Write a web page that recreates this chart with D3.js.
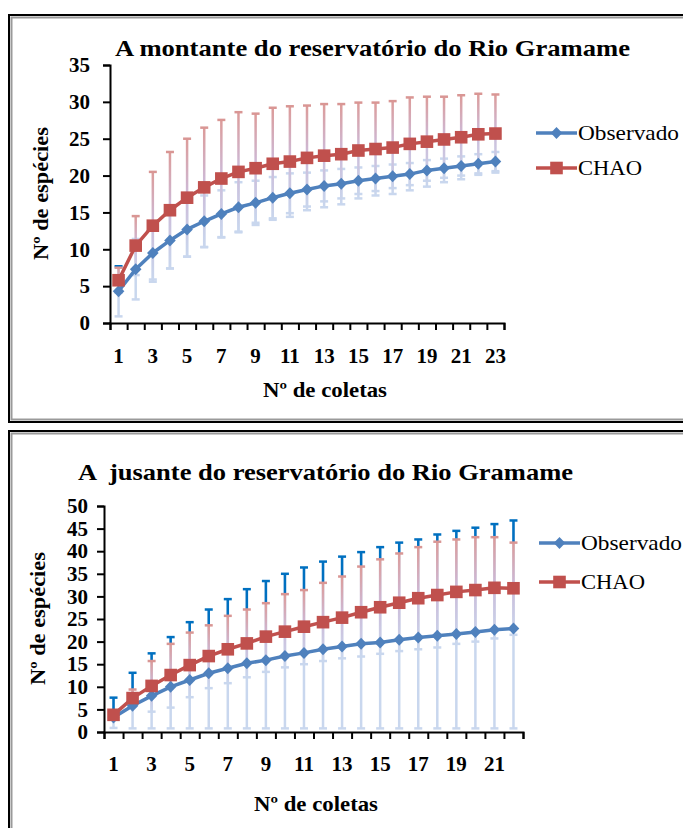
<!DOCTYPE html>
<html lang="pt">
<head>
<meta charset="UTF-8">
<title>Curvas de acumulação - Rio Gramame</title>
<script src="https://d3js.org/d3.v7.min.js"></script>
<style>
    body { margin: 0; background: #fff; }
    svg { display: block; }
    svg text { font-family: "Liberation Serif", "Times New Roman", serif; }
    .tick line, .domain { stroke: #000; }
</style>
</head>
<body>
<div class="container"></div>
<script>
// ---- data ----
const topColetas = [1,2,3,4,5,6,7,8,9,10,11,12,13,14,15,16,17,18,19,20,21,22,23];
const topObs     = [4.3,7.3,9.5,11.2,12.7,13.8,14.8,15.7,16.3,17.0,17.6,18.1,18.6,18.9,19.3,19.6,19.9,20.2,20.7,21.0,21.3,21.6,21.9];
const topObsErr  = [3.4,4.1,3.9,3.8,3.7,3.5,3.2,3.4,3.0,2.8,2.7,2.3,2.1,2.0,1.8,1.7,1.6,1.5,1.4,1.3,1.3,1.3,1.3];
const topChao    = [5.8,10.5,13.2,15.3,17.0,18.4,19.6,20.5,21.0,21.6,21.9,22.4,22.7,22.9,23.4,23.6,23.8,24.3,24.6,24.9,25.2,25.6,25.7];
const topChaoErr = [1.7,4.0,7.3,7.9,8.0,8.1,7.95,8.1,7.4,7.6,7.5,7.1,7.0,6.8,6.5,6.3,6.3,6.3,6.1,5.8,5.7,5.5,5.3];
const topYTicks  = [0,5,10,15,20,25,30,35];

const botColetas = [1,2,3,4,5,6,7,8,9,10,11,12,13,14,15,16,17,18,19,20,21,22];
const botObs     = [3.2,5.8,8.0,10.0,11.5,13.0,14.1,15.2,15.9,16.8,17.5,18.3,18.9,19.5,19.8,20.4,20.9,21.3,21.7,22.1,22.6,22.9];
const botObsHi   = [7.6,13.1,17.4,21.0,24.3,27.1,29.4,31.6,33.4,35.0,36.4,37.7,38.8,39.8,40.9,41.9,42.6,43.7,44.5,45.2,46.0,46.8];
const botObsLo   = [0.9,0.8,0.8,0.8,0.8,0.8,0.8,0.8,0.8,0.8,0.8,0.8,0.8,0.8,0.8,0.8,0.8,0.8,0.8,0.8,0.8,0.8];
const botChao    = [3.8,7.5,10.2,12.6,14.8,16.8,18.3,19.6,21.1,22.2,23.3,24.3,25.3,26.5,27.6,28.6,29.6,30.3,31.0,31.4,31.9,31.8];
const botChaoHi  = [4.6,9.4,15.7,19.5,22.0,23.6,25.7,27.1,28.5,30.5,31.4,33.0,34.4,36.6,38.2,39.5,40.9,42.1,42.6,43.1,43.1,41.9];
const botChaoLo  = [3.0,5.6,4.5,5.4,7.7,9.7,10.8,12.1,13.3,14.3,15.0,15.7,16.3,16.7,17.3,17.9,18.3,18.7,19.5,20.0,20.7,21.5];
const botYTicks  = [0,5,10,15,20,25,30,35,40,45,50];

const series = ["Observado", "CHAO"];
const blue = "#4f81bd", red = "#c0504d";
const lightBlue = "#c9d7ee", pink = "#d99694", darkBlue = "#0070c0";
const serif = "Liberation Serif, Times New Roman, serif";

const svg = d3.select(".container").append("svg")
    .attr("width", 683).attr("height", 828);

// gradient used by the CHAO error bars (pink at top, fading to light blue)
const grad = svg.append("defs").append("linearGradient")
    .attr("id", "chaoGrad").attr("x1", 0).attr("y1", 0).attr("x2", 0).attr("y2", 1);
grad.append("stop").attr("offset", 0).attr("stop-color", "#dc9b99");
grad.append("stop").attr("offset", 0.45).attr("stop-color", "#cdb9d6");
grad.append("stop").attr("offset", 1).attr("stop-color", lightBlue);

function frame(y, h) {
    svg.append("rect").attr("x", 9).attr("y", y).attr("width", 700).attr("height", h)
        .attr("fill", "none").attr("stroke", "#000").attr("stroke-width", 2);
    svg.append("rect").attr("x", 11.5).attr("y", y + 2.5).attr("width", 700).attr("height", h - 5)
        .attr("fill", "none").attr("stroke", "#9a9a9a").attr("stroke-width", 2);
}

function panel(c) {
    const g = svg.append("g").attr("font-family", serif);
    const x = d3.scaleBand().domain(c.cats).range([c.x0, c.x1]);
    const xb = d3.scaleLinear().domain([0, c.cats.length]).range([c.x0, c.x1]);
    const y = d3.scaleLinear().domain([0, c.ymax]).range([c.y0, c.y1]);
    const cx = d => x(d) + x.bandwidth() / 2;

    g.append("text").attr("x", c.titleX).attr("y", c.titleY)
        .attr("font-size", 24).attr("font-weight", "bold").attr("xml:space", "preserve")
        .attr("textLength", c.titleW).attr("lengthAdjust", "spacingAndGlyphs").text(c.title);

    const rows = c.cats.map((d, i) => ({
        k: d, obs: c.obs[i], oLo: c.obsLo[i], oHi: c.obsHi[i],
        chao: c.chao[i], cLo: c.chaoLo[i], cHi: c.chaoHi[i]
    }));

    // Observado error bars
    const eo = g.append("g");
    rows.forEach(r => {
        eo.append("rect").attr("x", cx(r.k) - 1.25).attr("y", y(r.oHi)).attr("width", 2.5)
            .attr("height", y(r.oLo) - y(r.oHi)).attr("fill", lightBlue);
        eo.append("line").attr("x1", cx(r.k) - 4).attr("x2", cx(r.k) + 4)
            .attr("y1", y(r.oLo)).attr("y2", y(r.oLo)).attr("stroke", lightBlue).attr("stroke-width", 2.5);
        const dark = r.oHi > r.cHi;
        if (dark) {
            eo.append("rect").attr("x", cx(r.k) - 1.25).attr("y", y(r.oHi)).attr("width", 2.5)
                .attr("height", y(r.cHi) - y(r.oHi)).attr("fill", darkBlue);
        }
        eo.append("line").attr("x1", cx(r.k) - 4).attr("x2", cx(r.k) + 4)
            .attr("y1", y(r.oHi)).attr("y2", y(r.oHi))
            .attr("stroke", dark ? darkBlue : lightBlue).attr("stroke-width", 2.5);
    });

    // CHAO error bars
    const ec = g.append("g");
    rows.forEach(r => {
        ec.append("rect").attr("x", cx(r.k) - 1.25).attr("y", y(r.cHi)).attr("width", 2.5)
            .attr("height", y(r.cLo) - y(r.cHi)).attr("fill", "url(#chaoGrad)");
        ec.append("line").attr("x1", cx(r.k) - 4).attr("x2", cx(r.k) + 4)
            .attr("y1", y(r.cHi)).attr("y2", y(r.cHi)).attr("stroke", pink).attr("stroke-width", 2.5);
        ec.append("line").attr("x1", cx(r.k) - 4).attr("x2", cx(r.k) + 4)
            .attr("y1", y(r.cLo)).attr("y2", y(r.cLo)).attr("stroke", lightBlue).attr("stroke-width", 2.5);
    });

    // axes
    g.append("g").attr("transform", `translate(${c.x0},0)`)
        .call(d3.axisLeft(y).tickValues(c.yTicks).tickSize(7).tickPadding(c.yPad))
        .attr("font-family", serif)
        .call(a => a.selectAll("line, path").attr("stroke-width", 2))
        .call(a => a.selectAll("text").attr("font-size", 21).attr("font-weight", "bold"));
    g.append("g").attr("transform", `translate(0,${c.y0})`)
        .call(d3.axisBottom(xb).ticks(c.cats.length).tickSize(7).tickFormat(""))
        .call(a => a.selectAll("line, path").attr("stroke-width", 2));
    g.append("g").attr("transform", `translate(0,${c.y0})`)
        .call(d3.axisBottom(x).tickSize(0).tickPadding(c.xPad)
            .tickFormat(d => d % 2 === 1 ? d : ""))
        .attr("font-family", serif)
        .call(a => a.select(".domain").remove())
        .call(a => a.selectAll("text").attr("font-size", 21).attr("font-weight", "bold"));

    // lines + markers
    const line = key => d3.line().x(d => cx(d.k)).y(d => y(d[key]));
    g.append("path").datum(rows).attr("d", line("obs")).attr("fill", "none")
        .attr("stroke", blue).attr("stroke-width", 3.5);
    g.append("path").datum(rows).attr("d", line("chao")).attr("fill", "none")
        .attr("stroke", red).attr("stroke-width", 3.5);
    g.selectAll(".dia").data(rows).join("path").attr("class", "dia")
        .attr("d", "M0,-6L5.8,0L0,6L-5.8,0Z").attr("fill", blue)
        .attr("transform", d => `translate(${cx(d.k)},${y(d.obs)})`);
    g.selectAll(".sq").data(rows).join("rect").attr("class", "sq")
        .attr("x", d => cx(d.k) - 6.3).attr("y", d => y(d.chao) - 6.3)
        .attr("width", 12.6).attr("height", 12.6).attr("fill", red);

    // axis titles
    g.append("text").attr("x", c.xtX).attr("y", c.xtY)
        .attr("font-size", 21).attr("font-weight", "bold")
        .attr("textLength", 124).attr("lengthAdjust", "spacingAndGlyphs").text("Nº de coletas");
    g.append("text").attr("transform", `translate(${c.ytX},${c.ytY}) rotate(-90)`)
        .attr("font-size", 21).attr("font-weight", "bold")
        .attr("textLength", 133).attr("lengthAdjust", "spacingAndGlyphs")
        .text("Nº de espécies");

    // legend
    const lg = g.selectAll(".lg").data(series).join("g").attr("class", "lg")
        .attr("transform", (d, i) => `translate(${c.legX},${c.legY[i]})`);
    lg.append("line").attr("x1", 0).attr("x2", 41).attr("stroke", (d, i) => i ? red : blue)
        .attr("stroke-width", 3.5);
    lg.filter((d, i) => i === 0).append("path").attr("d", "M0,-6L5.8,0L0,6L-5.8,0Z")
        .attr("transform", "translate(20.5,0)").attr("fill", blue);
    lg.filter((d, i) => i === 1).append("rect").attr("x", 14.2).attr("y", -6.3)
        .attr("width", 12.6).attr("height", 12.6).attr("fill", red);
    lg.append("text").attr("x", 42).attr("y", 7).attr("font-size", 22)
        .attr("textLength", (d, i) => i ? 64 : 101).attr("lengthAdjust", "spacingAndGlyphs")
        .text(d => d);
}

frame(15, 407);
frame(431, 420);

panel({
    title: "A montante do reservatório do Rio Gramame", titleX: 115, titleY: 56, titleW: 515,
    cats: topColetas, obs: topObs, chao: topChao,
    obsLo: topObs.map((v, i) => v - topObsErr[i]), obsHi: topObs.map((v, i) => v + topObsErr[i]),
    chaoLo: topChao.map((v, i) => v - topChaoErr[i]), chaoHi: topChao.map((v, i) => v + topChaoErr[i]),
    x0: 110, x1: 504, y0: 323, y1: 65, ymax: 35, yTicks: topYTicks, yPad: 13, xPad: 25,
    xtX: 263, xtY: 397, ytX: 48, ytY: 260, legX: 536, legY: [133, 168]
});

panel({
    title: "A  jusante do reservatório do Rio Gramame", titleX: 78, titleY: 480, titleW: 495,
    cats: botColetas, obs: botObs, chao: botChao,
    obsLo: botObsLo, obsHi: botObsHi, chaoLo: botChaoLo, chaoHi: botChaoHi,
    x0: 104, x1: 523, y0: 732, y1: 506, ymax: 50, yTicks: botYTicks, yPad: 9, xPad: 24,
    xtX: 254, xtY: 811, ytX: 45, ytY: 685, legX: 539, legY: [543, 582]
});
</script>
</body>
</html>
